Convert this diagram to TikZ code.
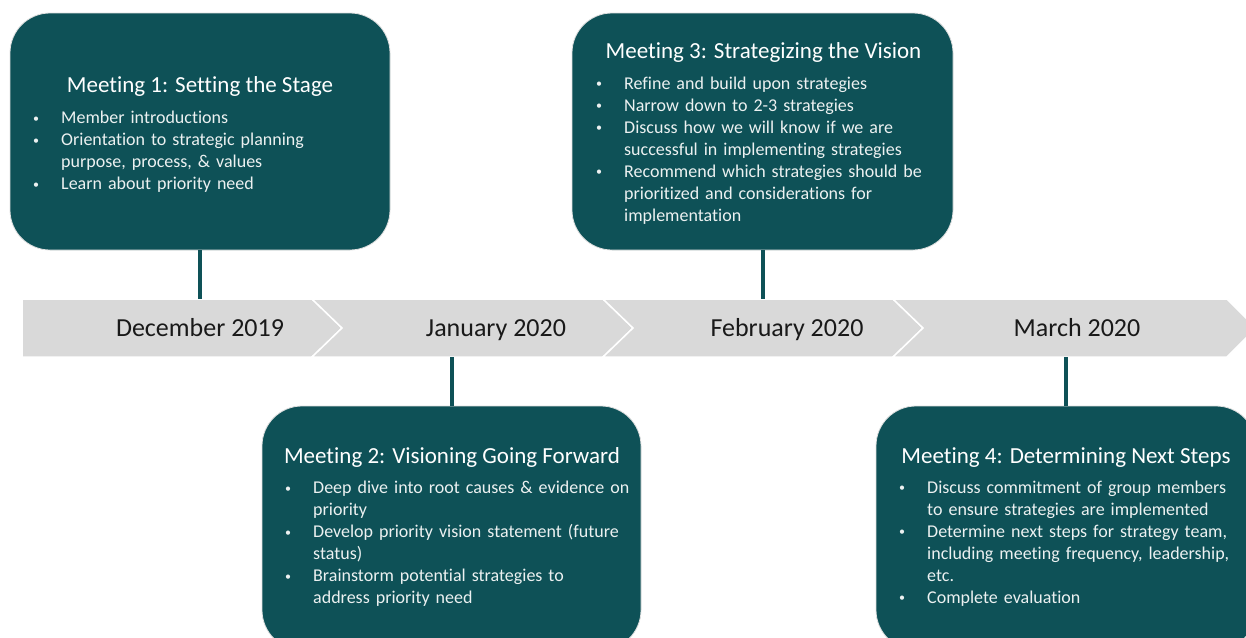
\documentclass[tikz,border=0pt]{standalone}
\usepackage{fontspec}
\setmainfont{Carlito}[Ligatures=NoCommon]
\definecolor{teal1}{RGB}{14,81,87}
\definecolor{bandgray}{RGB}{217,217,217}
\definecolor{ltext}{RGB}{236,241,241}
\definecolor{datecol}{RGB}{25,25,25}
\newcommand{\bitem}[1]{\par\hangindent=28pt\hangafter=1\noindent\makebox[28pt][l]{\rule{0pt}{16pt}\fontsize{12}{12}\selectfont\raisebox{1.5pt}{•}}#1\par}
\tikzset{
  mbox/.style={rectangle, rounded corners=40pt, fill=teal1, draw=black!12, line width=0.8pt, inner sep=0pt},
  ttl/.style={text=white, font=\fontsize{23}{28}\selectfont, anchor=base, inner sep=0pt},
  blist/.style={text=ltext, font=\fontsize{18}{22}\selectfont, anchor=north west, inner sep=0pt, text width=360pt},
  datel/.style={font=\fontsize{26}{30}\selectfont, text=datecol, anchor=base, inner sep=0pt},
  conn/.style={draw=teal1, line width=4pt},
  seg/.style={fill=bandgray, draw=white, line width=1.5pt, line join=miter}
}
\begin{document}
\begin{tikzpicture}[x=1pt,y=-1pt]
\useasboundingbox (0,0) rectangle (1246,637);
\fill[white] (0,0) rectangle (1246,637);
\clip (0,0) rectangle (1246,637);
% timeline band
\draw[seg] (22,299) -- (312,299) -- (342,328) -- (312,357) -- (22,357) -- cycle;
\draw[seg] (312,299) -- (603,299) -- (633,328) -- (603,357) -- (312,357) -- (342,328) -- cycle;
\draw[seg] (603,299) -- (893,299) -- (923,328) -- (893,357) -- (603,357) -- (633,328) -- cycle;
\draw[seg] (893,299) -- (1227,299) -- (1256,328) -- (1227,357) -- (893,357) -- (923,328) -- cycle;
\coordinate (t1) at (200,299);
\coordinate (t3) at (762.5,299);
\coordinate (b2) at (451.5,357);
\coordinate (b4) at (1066,357);
\node[datel] (d1) at (200,336) {December 2019};
\node[datel] (d2) at (496,336) {January 2020};
\node[datel] (d3) at (787,336) {February 2020};
\node[datel] (d4) at (1077,336) {March 2020};
% boxes
\node[mbox, minimum width=380pt, minimum height=237pt] (m1) at (200,131.5) {};
\node[mbox, minimum width=381pt, minimum height=237pt] (m3) at (762.5,131.5) {};
\node[mbox, minimum width=379pt, minimum height=244pt] (m2) at (451.5,528) {};
\node[mbox, minimum width=380pt, minimum height=244pt] (m4) at (1066,528) {};
% connectors
\draw[conn] (m1.south) -- (t1);
\draw[conn] (m3.south) -- (t3);
\draw[conn] (b2) -- (m2.north);
\draw[conn] (b4) -- (m4.north);
% box 1
\node[ttl] (m1t) at (200,92) {Meeting 1: Setting the Stage};
\node[blist] (m1b) at (33,101.3) {\raggedright\bitem{Member introductions}\bitem{Orientation to strategic planning\newline purpose, process, \& values}\bitem{Learn about priority need}};
% box 3
\node[ttl] (m3t) at (763.5,58) {Meeting 3: Strategizing the Vision};
\node[blist] (m3b) at (596,67) {\raggedright\bitem{Refine and build upon strategies}\bitem{Narrow down to 2-3 strategies}\bitem{Discuss how we will know if we are\newline successful in implementing strategies}\bitem{Recommend which strategies should be\newline prioritized and considerations for\newline implementation}};
% box 2
\node[ttl] (m2t) at (452,463) {Meeting 2: Visioning Going Forward};
\node[blist] (m2b) at (285,471.3) {\raggedright\bitem{Deep dive into root causes \& evidence on\newline priority}\bitem{Develop priority vision statement (future\newline status)}\bitem{Brainstorm potential strategies to\newline address priority need}};
% box 4
\node[ttl] (m4t) at (1066,463) {Meeting 4: Determining Next Steps};
\node[blist] (m4b) at (899,471) {\raggedright\bitem{Discuss commitment of group members\newline to ensure strategies are implemented}\bitem{Determine next steps for strategy team,\newline including meeting frequency, leadership,\newline etc.}\bitem{Complete evaluation}};
\end{tikzpicture}
\end{document}
